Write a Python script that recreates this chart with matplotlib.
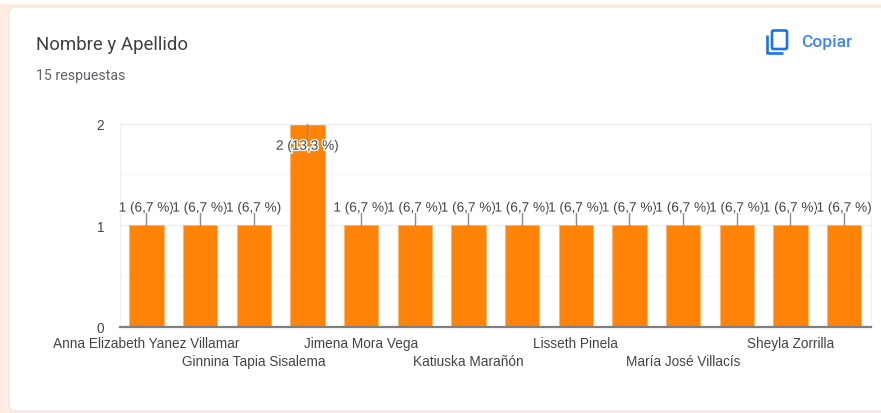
import matplotlib
matplotlib.use("Agg")
import matplotlib.pyplot as plt
import matplotlib.patheffects as pe
from matplotlib.patches import FancyBboxPatch, Rectangle

W, H = 881, 414

# Data (names missing in the reference were skipped by the axis)
nombres = ["Anna Elizabeth Yanez Villamar", "", "Ginnina Tapia Sisalema", "",
           "Jimena Mora Vega", "", "Katiuska Marañón", "",
           "Lisseth Pinela", "", "María José Villacís", "",
           "Sheyla Zorrilla", ""]
respuestas = [1, 1, 1, 2, 1, 1, 1, 1, 1, 1, 1, 1, 1, 1]
etiquetas = ["2 (13,3 %)" if r == 2 else "1 (6,7 %)" for r in respuestas]
y_ticks = [0, 1, 2]

fig = plt.figure(figsize=(W / 100, H / 100), dpi=100, facecolor="white")

# Page background and card, in pixel coordinates
bg = fig.add_axes([0, 0, 1, 1])
bg.set_xlim(0, W)
bg.set_ylim(H, 0)
bg.axis("off")
bg.add_patch(Rectangle((0, 5), W, H, fc="#fdecdf", ec="none"))
bg.add_patch(FancyBboxPatch((9, 8), W + 30, 404, boxstyle="round,pad=0,rounding_size=7",
                            fc="white", ec="#e6e6e6", lw=0.8))
bg.text(36, 44.5, "Nombre y Apellido", fontsize=13.4, family="Roboto", color="#3c4043",
        va="center", ha="left")
bg.text(36, 76, "15 respuestas", fontsize=10.2, family="Roboto", color="#5f6368",
        va="center", ha="left")
bg.text(801, 43, "Copiar", fontsize=12.6, family="Roboto", color="#4285f4",
        va="center", ha="left", fontweight="medium")

# Copy icon
azul = "#1a73e8"
bg.add_patch(FancyBboxPatch((772, 31.5), 15, 18.5, boxstyle="round,pad=0,rounding_size=1.5",
                            fc="none", ec=azul, lw=1.9))
bg.plot([767, 767, 783], [36, 53.5, 53.5], color=azul, lw=1.9, solid_capstyle="butt")

# Chart axes
left, right, top, bottom = 119.5, 871, 124.5, 327.7
ax = fig.add_axes([left / W, 1 - bottom / H, (right - left) / W, (bottom - top) / H])
ax.patch.set_alpha(0)
x = range(len(respuestas))
ax.set_xlim(-0.5, len(respuestas) - 0.5)
ax.set_ylim(0, 2)
ax.set_axisbelow(True)
ax.grid(axis="y", which="major", color="#f0f0f0", lw=1)
ax.set_yticks([0.5, 1.5], minor=True)
ax.grid(axis="y", which="minor", color="#f7f7f7", lw=1)
ax.tick_params(axis="y", which="both", length=0)

ax.bar(x, respuestas, width=0.64, color="#ff8209", edgecolor="#ffb366", linewidth=0.6, zorder=2)

chart_font = "Liberation Sans"
ax.set_yticks(y_ticks)
ax.set_yticklabels([str(t) for t in y_ticks], fontsize=9.8, family=chart_font, color="#444444")
ax.tick_params(axis="y", which="major", pad=11)
ax.set_xticks(list(x))
ax.set_xticklabels([])
ax.tick_params(axis="x", length=0)

for s in ["top", "right", "left"]:
    ax.spines[s].set_color("#f0f0f0")
    ax.spines[s].set_linewidth(1)
ax.spines["bottom"].set_color("#7f7f7f")
ax.spines["bottom"].set_linewidth(1.6)
ax.spines["bottom"].set_zorder(5)

# Staggered category labels, offset in points from the axis
for i, nombre in enumerate(nombres):
    fila = (i // 2) % 2
    ax.annotate(nombre, (i, 0), xytext=(0, -11.7 - 13 * fila), textcoords="offset points",
                ha="center", va="center", fontsize=9.8, family=chart_font, color="#444444",
                annotation_clip=False)

# Value labels with leader lines and a white halo
for i, (r, e) in enumerate(zip(respuestas, etiquetas)):
    ax.plot([i, i], [r, r + (0.12 if r == 1 else -0.15)], color="#8c8c8c", lw=1.0,
            zorder=3.5, clip_on=False)
    ax.annotate(e, (i, r), xytext=(0, 12.6 if r == 1 else -16), textcoords="offset points",
                ha="center", va="center", fontsize=9.8, family=chart_font, color="#444444",
                zorder=4 + i * 0.01, annotation_clip=False,
                path_effects=[pe.withStroke(linewidth=2.0, foreground="white")])

fig.savefig("out.png", dpi=100)
